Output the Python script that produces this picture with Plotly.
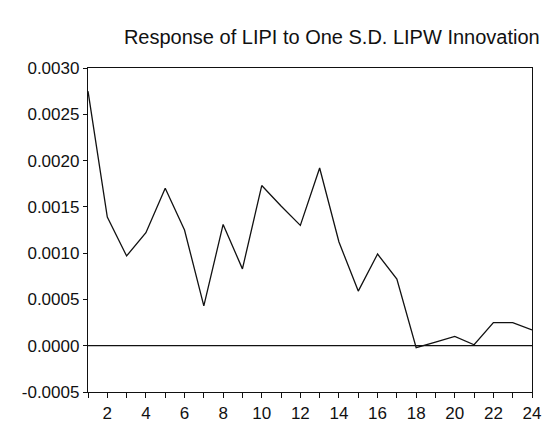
import plotly.graph_objects as go

periods = list(range(1, 25))
response = [0.00275, 0.00139, 0.00097, 0.00122, 0.00170, 0.00125, 0.00043, 0.00131,
            0.00083, 0.00173, 0.00151, 0.00130, 0.00192, 0.00112, 0.00059, 0.00099,
            0.00072, -0.00002, 0.00004, 0.00010, 0.00001, 0.00025, 0.00025, 0.00017]

y_tickvals = [-0.0005, 0.0, 0.0005, 0.0010, 0.0015, 0.0020, 0.0025, 0.0030]
y_ticktext = ["-0.0005", "0.0000", "0.0005", "0.0010", "0.0015", "0.0020", "0.0025", "0.0030"]
x_tickvals = periods
x_ticktext = [str(p) if p % 2 == 0 else "" for p in periods]

fig = go.Figure()
fig.add_trace(go.Scatter(x=periods, y=response, mode="lines",
                         line=dict(color="#111111", width=1.3), showlegend=False,
                         hoverinfo="skip"))

fig.add_hline(y=0, line=dict(color="#111111", width=1.2))

fig.update_layout(
    width=553, height=438,
    margin=dict(l=88, r=18, t=68, b=46),
    paper_bgcolor="white", plot_bgcolor="white",
    font=dict(family="Liberation Sans, Arial", size=17, color="#111111"),
    title=dict(text="Response of LIPI to One S.D. LIPW Innovation",
               x=0.6, xanchor="center", y=0.915, yanchor="middle",
               font=dict(size=20, color="#111111")),
    xaxis=dict(range=[1, 24], tickvals=x_tickvals, ticktext=x_ticktext,
               ticks="outside", ticklen=5, tickcolor="#111111",
               showline=True, linecolor="#111111", linewidth=1.3, mirror=True,
               showgrid=False, zeroline=False),
    yaxis=dict(range=[-0.0005, 0.0030], tickvals=y_tickvals, ticktext=y_ticktext,
               ticks="outside", ticklen=4, tickcolor="#111111",
               showline=True, linecolor="#111111", linewidth=1.3, mirror=True,
               showgrid=False, zeroline=False),
)

fig.write_html("out.html",
               config={"displayModeBar": False},
               post_script="document.body.style.margin='0';document.body.style.overflow='hidden';")
